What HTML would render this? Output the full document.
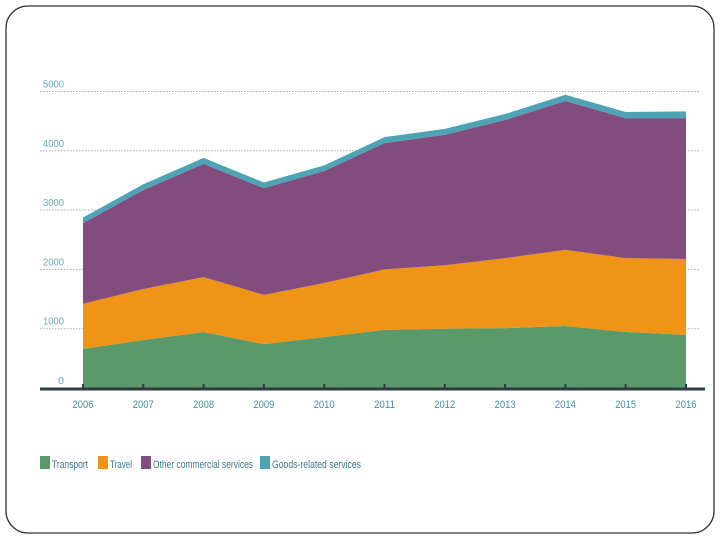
<!DOCTYPE html>
<html><head><meta charset="utf-8"><style>
body{margin:0;width:720px;height:540px;background:#fff;overflow:hidden;font-family:"Liberation Sans",sans-serif}
</style></head><body>
<svg width="720" height="540">
<rect x="6" y="6" width="708" height="527" rx="22" fill="none" stroke="#333" stroke-width="1.3"/>
<g id="grid"></g><g id="areas"></g><g id="axis"></g><g id="legend"></g>
</svg>
<script>
const years=[2006,2007,2008,2009,2010,2011,2012,2013,2014,2015,2016];
const transport=[660,810,945,740,860,980,1000,1010,1045,945,895];
const travel=[760,860,925,830,910,1020,1070,1180,1285,1245,1280];
const other=[1360,1670,1910,1800,1890,2130,2200,2330,2510,2360,2375];
const goods=[95,95,100,95,95,100,100,100,105,105,115];
const yTicks=[0,1000,2000,3000,4000,5000];
const seriesNames=["Transport","Travel","Other commercial services","Goods-related services"];
const colors=["#5a9a6a","#f09418","#824d7e","#4ea3b5"];
const NS="http://www.w3.org/2000/svg";
const x=i=>83+i*60.3;
const y=v=>388-v*0.0593;
function mk(t,a,p){const e=document.createElementNS(NS,t);for(const k in a)e.setAttribute(k,a[k]);p.appendChild(e);return e;}
const grid=document.getElementById('grid');
yTicks.forEach(v=>{
 if(v>0){const l=mk('line',{x1:40,x2:700,y1:y(v),y2:y(v),stroke:'#aaa','stroke-dasharray':'1.5,1.5','stroke-width':1},grid);
 
 }
 const t=mk('text',{x:v>0?43:58,y:y(v)-4,fill:'#6aa9b8','font-size':10,textLength:v>0?21:6,lengthAdjust:'spacingAndGlyphs'},grid);t.textContent=v;
 
 
});
const series=[transport,travel,other,goods];
const areas=document.getElementById('areas');
let base=years.map(()=>0);
series.forEach((s,si)=>{
 const top=base.map((b,i)=>b+s[i]);
 let d='M'+years.map((_,i)=>x(i)+','+y(top[i])).join('L');
 for(let i=years.length-1;i>=0;i--)d+='L'+x(i)+','+y(base[i]);
 const p=mk('path',{d:d+'Z',fill:colors[si]},areas);
 
 
 base=top;
});
const ax=document.getElementById('axis');
const al=mk('line',{x1:40,x2:705,y1:389,y2:389,stroke:'#2e3b40','stroke-width':3},ax);


years.forEach((yr,i)=>{
 mk('line',{x1:x(i),x2:x(i),y1:384,y2:390,stroke:'#2e3b40','stroke-width':2},ax);
 const t=mk('text',{x:x(i),y:408,fill:'#4a8fa5','font-size':11,'text-anchor':'middle',textLength:21,lengthAdjust:'spacingAndGlyphs'},ax);t.textContent=yr;
 
 
});
const lg=document.getElementById('legend');
const lxs=[40,98,141,260];const tws=[36,22,100,89];
seriesNames.forEach((n,i)=>{
 const g=mk('g',{},lg);
 
 
 mk('rect',{x:lxs[i],y:456,width:10,height:13,fill:colors[i]},g);
 const t=mk('text',{x:lxs[i]+12,y:468,fill:'#3d7a8c','font-size':11,textLength:tws[i],lengthAdjust:'spacingAndGlyphs'},g);t.textContent=n;
});
</script>
</body></html>
